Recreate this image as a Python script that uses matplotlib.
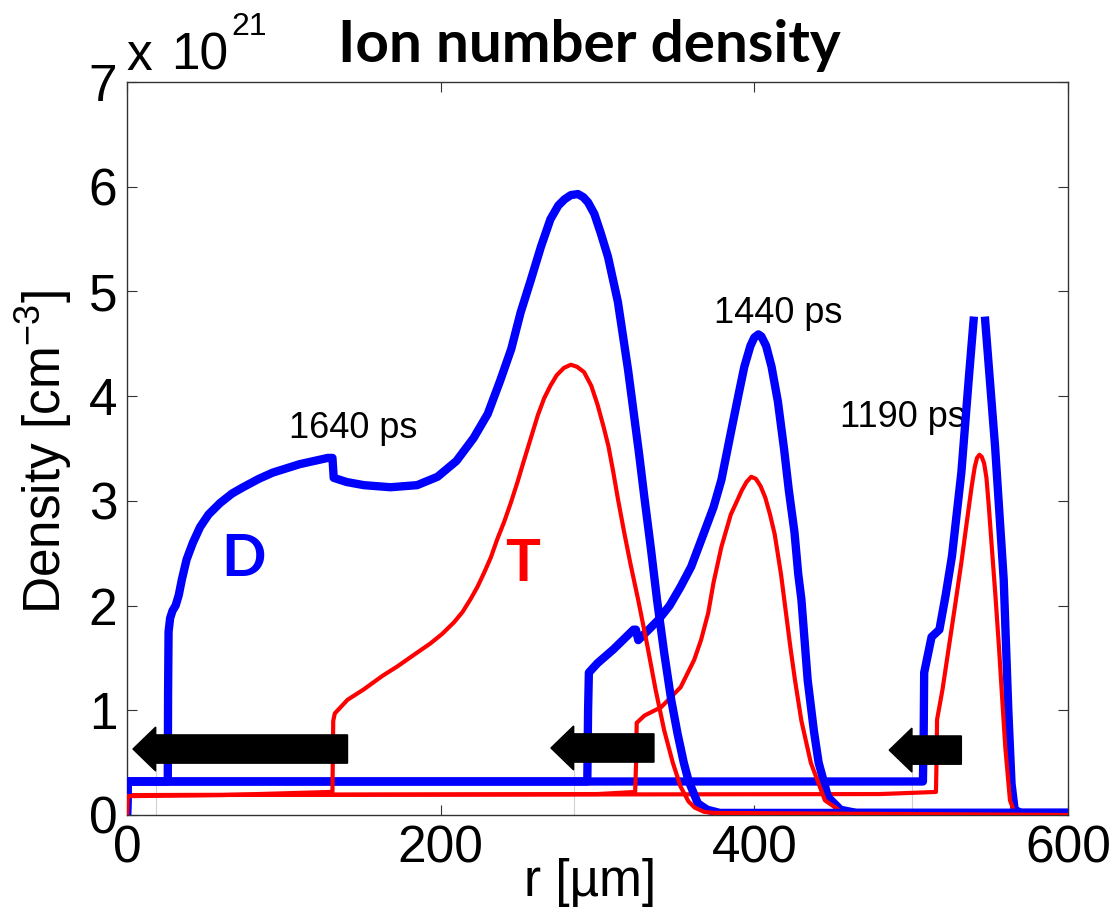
import numpy as np
import matplotlib
matplotlib.use("Agg")
import matplotlib.pyplot as plt
from matplotlib.patches import FancyArrow

plt.rcParams['font.family'] = ['Liberation Sans', 'DejaVu Sans']
plt.rcParams['mathtext.fontset'] = 'custom'
plt.rcParams['mathtext.rm'] = 'Liberation Sans'
plt.rcParams['mathtext.it'] = 'Liberation Sans'

# density in units of 1e21 cm^-3, r in um
d1190_x = [0, 0.5, 507.5, 508, 508.3, 513, 518, 522, 526, 532, 536.7, 540, np.nan,
           547, 553.5, 559, 562, 564, 566, 570, 600]
d1190_y = [0, 0.32, 0.32, 0.8, 1.36, 1.7, 1.77, 2.1, 2.47, 3.27, 4.16, 4.76, np.nan,
           4.76, 3.52, 2.25, 0.98, 0.3, 0.05, 0.02, 0.02]
t1190_x = [0, 0.5, 480, 515.8, 516.3, 516.5, 520, 524, 528, 532, 535.5, 538.6, 540.5,
           542, 543.5, 545, 546.5, 548, 549.5, 551.4, 553.7, 556, 558, 560, 563, 566, 600]
t1190_y = [0, 0.19, 0.2, 0.22, 0.6, 0.91, 1.2, 1.6, 2.0, 2.41, 2.8, 3.14, 3.32,
           3.41, 3.44, 3.42, 3.36, 3.22, 2.95, 2.56, 2.1, 1.6, 1.12, 0.65, 0.14, 0.02, 0.0]

d1440_x = [0, 0.5, 293.5, 294, 294.5, 300, 310, 323, 324.5, 326, 330, 338.6, 346, 353,
           359.7, 366, 374, 379, 385, 390, 393.6, 397.5, 400, 402.6, 404.5, 407.5, 411,
           415, 419, 422, 425.6, 428, 430, 434, 438, 441, 447, 455, 465, 600]
d1440_y = [0, 0.32, 0.32, 1.0, 1.36, 1.45, 1.58, 1.77, 1.77, 1.67, 1.73, 1.86, 2.0, 2.18,
           2.37, 2.62, 2.94, 3.2, 3.65, 4.02, 4.28, 4.48, 4.56, 4.59, 4.57, 4.48, 4.28,
           3.95, 3.49, 3.1, 2.7, 2.3, 2.06, 1.29, 0.8, 0.5, 0.17, 0.05, 0.02, 0.02]
t1440_x = [0, 0.5, 300, 324, 324.6, 325, 330, 340.6, 353, 361.6, 366, 370.6, 374, 379,
           385, 389, 392, 395, 398, 401, 404, 407, 410, 413, 417, 420, 423, 426, 430,
           436, 445, 455.6, 600]
t1440_y = [0, 0.19, 0.2, 0.22, 0.5, 0.88, 0.95, 1.03, 1.22, 1.48, 1.67, 1.93, 2.22, 2.56,
           2.87, 3.0, 3.1, 3.18, 3.23, 3.21, 3.14, 3.03, 2.87, 2.68, 2.3, 1.95, 1.6, 1.28,
           0.9, 0.5, 0.14, 0.03, 0.0]

d1640_x = [0, 0.5, 26, 26.2, 26.5, 27.5, 29, 31, 33, 35, 38, 42, 46.6, 52, 59.4, 67, 74,
           84, 93, 110, 128, 131, 131.8, 140, 151, 168, 185, 198, 210, 221, 230, 238, 245,
           251, 257.5, 264, 270, 275, 279, 283, 287.5, 291, 294, 298, 302, 306.7, 313,
           316, 319.5, 323, 326.5, 330, 334, 338, 342.5, 347, 351, 355, 358, 364, 370,
           378, 600]
d1640_y = [0, 0.32, 0.32, 1.17, 1.75, 1.88, 1.95, 2.0, 2.1, 2.25, 2.44, 2.6, 2.75, 2.87,
           2.98, 3.07, 3.13, 3.21, 3.27, 3.35, 3.41, 3.41, 3.22, 3.18, 3.15, 3.13, 3.15,
           3.23, 3.38, 3.6, 3.83, 4.15, 4.45, 4.8, 5.11, 5.43, 5.69, 5.82, 5.88, 5.92,
           5.93, 5.9, 5.85, 5.74, 5.56, 5.33, 4.9, 4.6, 4.25, 3.85, 3.45, 3.02, 2.55, 2.05,
           1.55, 1.1, 0.78, 0.5, 0.33, 0.11, 0.05, 0.02, 0.02]
t1640_x = [0, 0.5, 60, 130, 131, 131.5, 132.5, 140.6, 151, 163, 172.5, 183, 193.6, 201,
           208.5, 214, 219, 223.5, 227.6, 232, 236, 240.5, 244.7, 249, 253, 257.5, 262,
           266, 270, 274, 278.6, 283, 287, 291.4, 296, 300, 304, 307, 310, 313, 317, 321,
           326, 332, 337, 342.5, 348, 353, 358, 362, 368, 374, 600]
t1640_y = [0, 0.18, 0.19, 0.22, 0.22, 0.9, 0.97, 1.1, 1.2, 1.33, 1.42, 1.53, 1.64, 1.73,
           1.84, 1.94, 2.06, 2.18, 2.31, 2.46, 2.63, 2.8, 2.98, 3.18, 3.38, 3.6, 3.82,
           3.98, 4.1, 4.2, 4.27, 4.3, 4.28, 4.23, 4.1, 3.92, 3.7, 3.52, 3.28, 3.02, 2.7,
           2.4, 2.05, 1.6, 1.2, 0.81, 0.5, 0.27, 0.13, 0.07, 0.03, 0.02, 0.0]

# time labels: (text, x, y)
time_labels = [("1640 ps", 144, 3.69), ("1440 ps", 415, 4.79), ("1190 ps", 495, 3.8)]
# arrows pointing inward: (tail x, tip x, y)
arrows = [(140.6, 3.8, 0.63), (336, 270.3, 0.64), (532, 486, 0.62)]

fig = plt.figure(figsize=(11.2, 9.23), dpi=100)
ax = fig.add_axes([127 / 1120, 1 - 815 / 923, 941 / 1120, 733 / 923])

blue = '#0000ff'
red = '#ff0000'
for dx, dy, tx, ty in [(d1190_x, d1190_y, t1190_x, t1190_y),
                       (d1440_x, d1440_y, t1440_x, t1440_y),
                       (d1640_x, d1640_y, t1640_x, t1640_y)]:
    ax.plot(dx, dy, color=blue, lw=6, solid_capstyle='butt', zorder=3)
    ax.plot(tx, ty, color=red, lw=3, solid_capstyle='butt', zorder=3)

for tail, tip, y in arrows:
    head_len = 14.5
    ax.add_patch(FancyArrow(tail, y, tip - tail, 0, width=0.27, head_width=0.42,
                            head_length=head_len, length_includes_head=True,
                            color='black', zorder=4))
    ax.plot([tip + head_len, tip + head_len], [0, y - 0.21], color='#d0d0d0', lw=0.8, zorder=1)

for txt, x, y in time_labels:
    ax.text(x, y, txt, fontsize=26, ha='center', va='center', zorder=2)

ax.text(74, 2.44, "D", color=blue, fontsize=42, fontweight='bold', family=['Lato', 'DejaVu Sans'],
        ha='center', va='center', zorder=2)
ax.text(252, 2.39, "T", color=red, fontsize=42, fontweight='bold', family=['Lato', 'DejaVu Sans'],
        ha='center', va='center', zorder=2)

ax.set_xlim(0, 600)
ax.set_ylim(0, 7)
ax.set_xticks([0, 200, 400, 600])
ax.set_yticks(range(8))
ax.tick_params(direction='in', length=7, width=0.8, top=True, right=True,
               labelsize=37, pad=7, color='#333333')
for s in ax.spines.values():
    s.set_color('#333333')
    s.set_linewidth(1.0)

ax.set_xlabel(r"r [µm]", fontsize=37)
ax.xaxis.set_label_coords(0.492, -0.058)
ax.set_ylabel(r"Density [cm$^{-3}$]", fontsize=37)
ax.yaxis.set_label_coords(-0.056, 0.495)

fig.text(126 / 1120, 1 - 70 / 923, "x", fontsize=37, ha='left', va='baseline')
fig.text(171 / 1120, 1 - 70 / 923, "10", fontsize=37, ha='left', va='baseline')
fig.text(231 / 1120, 1 - 35 / 923, "21", fontsize=23, ha='left', va='baseline')
fig.text(589 / 1120, 1 - 62 / 923, "Ion number density", fontsize=42, fontweight='bold',
         family=['Lato', 'DejaVu Sans'], ha='center', va='baseline')

fig.savefig("out.png", dpi=100, facecolor='white')
